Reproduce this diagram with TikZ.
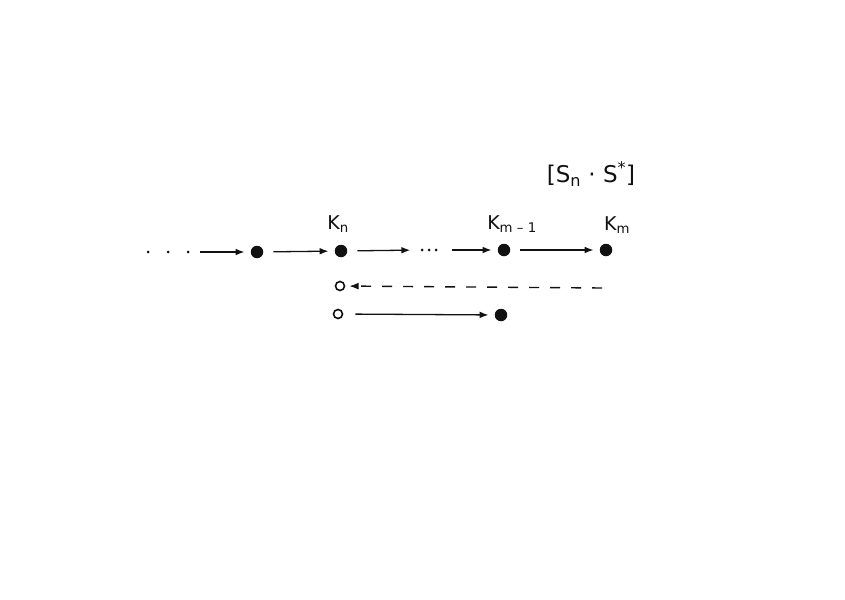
\documentclass[tikz,border=0pt]{standalone}
\usepackage{fontspec}
\setmainfont{DejaVu Sans}
\usepackage{tikz}
\usetikzlibrary{arrows.meta}
\definecolor{ink}{HTML}{111111}
\tikzset{
  >=Latex,
  every node/.style={text=ink},
  bigdot/.style={circle,fill=ink,inner sep=0pt,minimum size=12.5pt},
  smalldot/.style={circle,fill=ink,inner sep=0pt,minimum size=3pt},
  opendot/.style={circle,draw=ink,line width=1.6pt,inner sep=0pt,minimum size=9pt},
  lbl/.style={font=\fontsize{19}{22}\selectfont,inner sep=1pt},
  arrow/.style={->,line width=1.3pt,draw=ink,shorten <=10pt,shorten >=6pt},
  back/.style={->,line width=1.4pt,draw=ink,dash pattern=on 10pt off 11pt,shorten >=4pt},
}

\begin{document}
\begin{tikzpicture}[x=1pt,y=-1pt]
  \useasboundingbox (0,0) rectangle (845,599);

  % main chain
  \node[smalldot] (d1) at (148,252) {};
  \node[smalldot] (d2) at (168,252) {};
  \node[smalldot] (d3) at (188,252) {};
  \node[bigdot] (a) at (257,252) {};
  \node[bigdot] (kn) at (341,251) {};
  \node[smalldot] (e1) at (422,250) {};
  \node[smalldot] (e2) at (429,250) {};
  \node[smalldot] (e3) at (436,250) {};
  \node[bigdot] (km1) at (504,250) {};
  \node[bigdot] (km) at (606,250) {};
  \draw[arrow] (d3) -- (a);
  \draw[arrow] (a) -- (kn);
  \draw[arrow,shorten >=10pt] (kn) -- (e1);
  \draw[arrow,shorten <=14pt] (e3) -- (km1);
  \draw[arrow] (km1) -- (km);

  \node[lbl] (lkn) at (338,224) {K\textsubscript{n}};
  \node[lbl] (lkm1) at (512,224) {K\textsubscript{m – 1}};
  \node[lbl] (lkm) at (617,225) {K\textsubscript{m}};
  \node[lbl,font=\fontsize{23}{26}\selectfont] (prod) at (591,174) {[S\textsubscript{n} · S\textsuperscript{*}]};

  % way back
  \node[opendot] (o1) at (340,286) {};
  \coordinate (c1) at (602,288);
  \draw[back] (c1) -- (o1);

  % shortcut
  \node[opendot] (o2) at (338,314) {};
  \node[bigdot] (f) at (501,315) {};
  \draw[arrow,shorten <=12pt] (o2) -- (f);
\end{tikzpicture}
\end{document}
